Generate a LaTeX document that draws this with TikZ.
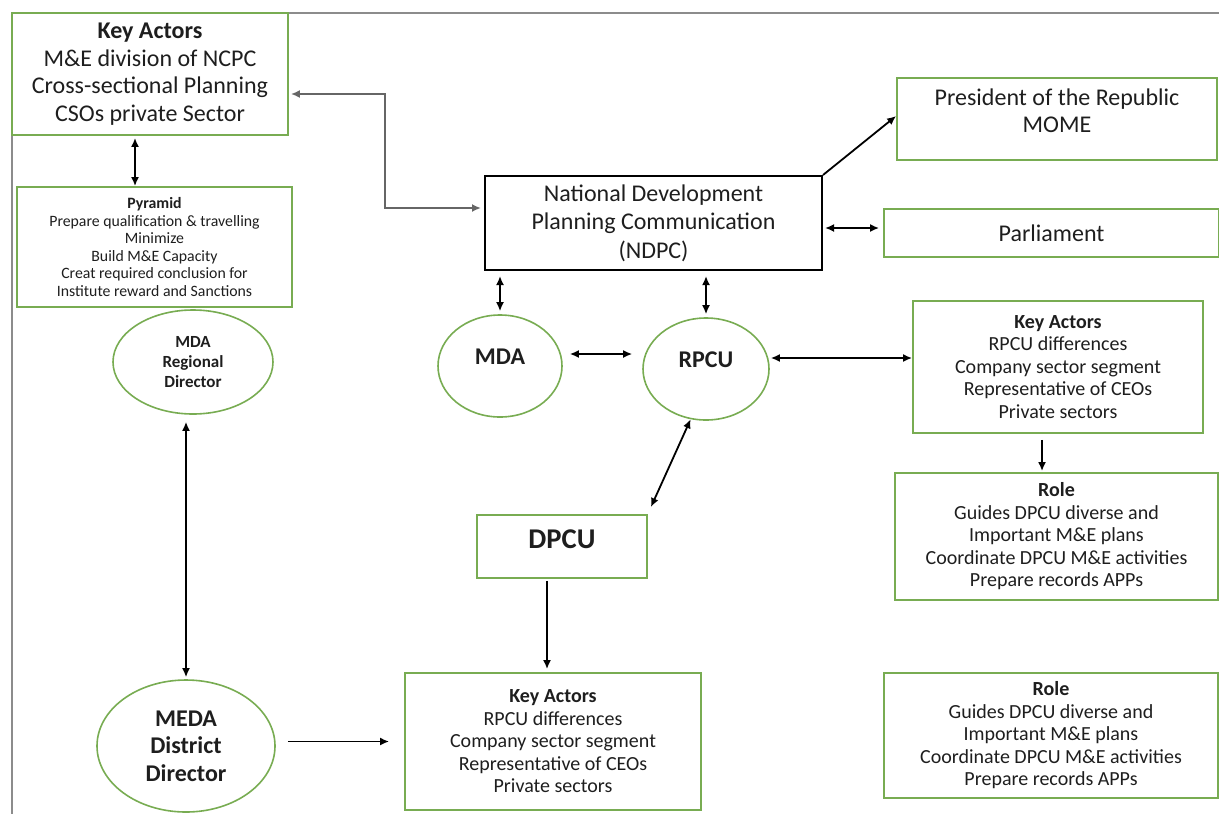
\documentclass[tikz,border=0pt]{standalone}
\usepackage{fontspec}
\setmainfont{Carlito}
\usepackage{tikz}
\usetikzlibrary{arrows.meta,calc,positioning,shapes.geometric}
\definecolor{boxgreen}{RGB}{120,172,82}
\definecolor{framegray}{RGB}{140,140,140}
\definecolor{txtgray}{RGB}{30,30,30}

\begin{document}
\begin{tikzpicture}[x=0.5pt,y=-0.5pt,
    gbox/.style={draw=boxgreen, line width=0.9pt, inner sep=0pt, align=center, text=txtgray},
    gell/.style={ellipse, draw=boxgreen, line width=0.8pt, inner sep=0pt, align=center, text=txtgray},
    dbl/.style={{Latex[length=4.5pt,width=4pt]}-{Latex[length=4.5pt,width=4pt]}, line width=0.9pt},
    sgl/.style={-{Latex[length=4.5pt,width=4pt]}, line width=0.9pt}]
                \useasboundingbox (0,0) rectangle (1219,814);
                \draw[framegray, line width=1pt] (1219,13) -- (12,13) -- (12,814);
                % left column
                \node[gbox, minimum width=138pt, minimum height=61pt, font=\fontsize{12}{13.85}\selectfont] (ka1) at (150,74)
                    {\textbf{Key Actors}\\M\&E division of NCPC\\Cross-sectional Planning\\CSOs private Sector};
                \node[gbox, minimum width=137.5pt, minimum height=60pt, font=\fontsize{7.9}{8.75}\selectfont] (pyr) at (154.5,247)
                    {\textbf{Pyramid}\\Prepare qualification \& travelling\\Minimize\\Build M\&E Capacity\\Creat required conclusion for\\Institute reward and Sanctions};
                \node[gell, minimum width=80pt, minimum height=52pt, font=\bfseries\fontsize{8.5}{10}\selectfont] (mdard) at (193,362)
                    {MDA\\Regional\\Director};
                \node[gell, minimum width=89pt, minimum height=66pt, font=\bfseries\fontsize{12}{13.75}\selectfont] (meda) at (186,746)
                    {MEDA\\District\\Director};
                % centre
                \node[draw=black, line width=1pt, inner sep=0pt, minimum width=168.5pt, minimum height=47pt, align=center,
                    text=txtgray, font=\fontsize{12}{14.25}\selectfont] (ndpc) at (653.5,223)
                    {National Development\\Planning Communication\\(NDPC)};
                \node[gell, minimum width=62pt, minimum height=51pt, text depth=9pt, font=\bfseries\fontsize{12}{14}\selectfont] (mda) at (500,366) {MDA};
                \node[gell, minimum width=63pt, minimum height=51pt, text depth=9pt, font=\bfseries\fontsize{12}{14}\selectfont] (rpcu) at (706,369) {RPCU};
                \node[gbox, minimum width=85pt, minimum height=31.5pt, text depth=7.5pt, font=\bfseries\fontsize{14.3}{16}\selectfont] (dpcu) at (562,546.5) {DPCU};
                \node[gbox, minimum width=148pt, minimum height=68.5pt, font=\fontsize{10}{11.25}\selectfont] (kab) at (553,741.5)
                    {\textbf{Key Actors}\\RPCU differences\\Company sector segment\\Representative of CEOs\\Private sectors};
                % right column
                \node[gbox, minimum width=160pt, minimum height=41pt, text depth=8.5pt, font=\fontsize{12}{13.5}\selectfont] (pres) at (1057,119)
                    {President of the Republic\\MOME};
                \node[gbox, minimum width=167.5pt, minimum height=24pt, font=\fontsize{12}{14}\selectfont] (parl) at (1051.5,233) {Parliament};
                \node[gbox, minimum width=145pt, minimum height=66pt, font=\fontsize{10}{11.25}\selectfont] (kar) at (1058,367)
                    {\textbf{Key Actors}\\RPCU differences\\Company sector segment\\Representative of CEOs\\Private sectors};
                \node[gbox, minimum width=161.5pt, minimum height=63.5pt, font=\fontsize{10}{11.25}\selectfont] (role1) at (1056.5,536.5)
                    {\textbf{Role}\\Guides DPCU diverse and\\Important M\&E plans\\Coordinate DPCU M\&E activities\\Prepare records APPs};
                \node[gbox, minimum width=167pt, minimum height=62.5pt, font=\fontsize{10}{11.25}\selectfont] (role2) at (1051,735.5)
                    {\textbf{Role}\\Guides DPCU diverse and\\Important M\&E plans\\Coordinate DPCU M\&E activities\\Prepare records APPs};
                % connectors
                \draw[dbl, shorten <=1pt] (ka1.south -| 135,0) -- (pyr.north -| 135,0);
                \draw[dbl, line width=1.3pt, black!60, shorten <=1pt, shorten >=1.5pt] (ka1.east |- 0,94) -| (385,208) -- (ndpc.west |- 0,208);
                \draw[sgl] (ndpc.north east) -- ([yshift=1.5pt]pres.west);
                \draw[dbl, shorten <=1pt, shorten >=2pt] (ndpc.east |- 0,228) -- (parl.west |- 0,228);
                \draw[dbl, shorten <=2.5pt, shorten >=1.5pt] (ndpc.south -| mda.north) -- (mda.north);
                \draw[dbl, shorten <=2.5pt, shorten >=1.5pt] (ndpc.south -| rpcu.north) -- (rpcu.north);
                \draw[dbl, shorten <=3.5pt, shorten >=5pt] (mda.east |- 0,354) -- (rpcu.west |- 0,354);
                \draw[dbl, shorten <=0.5pt] (rpcu.east |- 0,358) -- (kar.west |- 0,358);
                \draw[dbl] (rpcu.253) -- ([shift={(1.5pt,3.5pt)}]dpcu.north east);
                \draw[sgl, shorten <=1pt, shorten >=1.5pt] (dpcu.south -| 547,0) -- (kab.north -| 547,0);
                \draw[sgl, shorten <=3pt, shorten >=0.5pt] (kar.south -| 1042,0) -- (role1.north -| 1042,0);
                \draw[dbl, shorten <=3.5pt, shorten >=1pt] (mdard.south -| meda.north) -- (meda.north);
                \draw[sgl, shorten <=6pt, shorten >=7.5pt] (meda.east |- kab.west) -- (kab.west);
            \end{tikzpicture}
\end{document}
